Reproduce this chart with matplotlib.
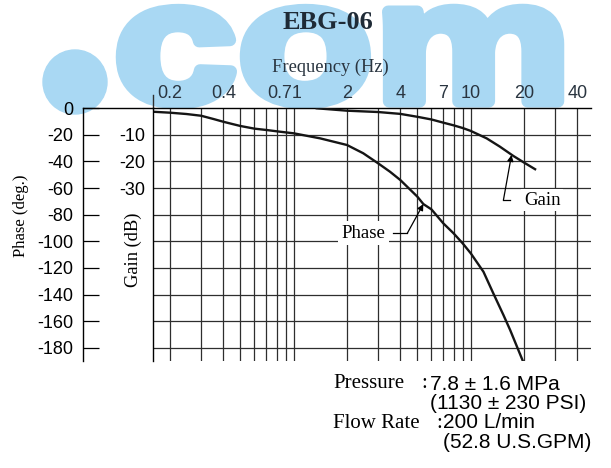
import matplotlib
matplotlib.use("Agg")
import matplotlib.pyplot as plt
from matplotlib.patches import Circle, PathPatch
from matplotlib.textpath import TextPath
from matplotlib.font_manager import FontProperties
from matplotlib.transforms import Affine2D, IdentityTransform
from matplotlib.ticker import NullLocator

SERIF = "Liberation Serif"
SANS = "Liberation Sans"
plt.rcParams["font.family"] = SANS

# values
phase_freq = [0.161, 0.2, 0.248, 0.3, 0.351, 0.4, 0.456, 0.5, 0.6, 0.7, 0.836, 1.0, 1.41,
              2, 2.47, 3, 3.5, 4, 5, 5.4, 6, 7, 8, 9, 10, 11.8, 13.4, 15.3, 16.7, 19.7]
phase_deg = [-2.6, -3.3, -4.3, -5.6, -8.0, -10.1, -12.0, -13.3, -15.3, -16.3, -17.6, -18.8, -22.6,
             -27.6, -33.8, -41.4, -47.7, -53.9, -66.5, -72.0, -76, -86.5, -94, -101.5, -109,
             -122.9, -139, -155.4, -166.7, -190]

gain_freq = [1.35, 1.41, 2, 3, 4, 5, 6, 7, 8, 9, 10, 12.3, 14.6, 17.4, 20, 23.1]
gain_db = [0, -0.1, -0.9, -1.4, -2.1, -3.2, -4.2, -5.4, -6.4, -7.4, -8.5, -11.3, -14.4, -17.9, -20.4, -22.9]

grid_freq = [0.2, 0.3, 0.4, 0.5, 0.6, 0.7, 0.8, 0.9, 1, 2, 3, 4, 5, 6, 7, 8, 9, 10, 20, 30, 40]
freq_ticks = [0.2, 0.4, 0.71, 2, 4, 7, 10, 20, 40]
freq_labels = ["0.2", "0.4", "0.71", "2", "4", "7", "10", "20", "40"]
phase_ticks = [0, -20, -40, -60, -80, -100, -120, -140, -160, -180]
gain_ticks = [-10, -20, -30]

W, H = 611, 468
fig = plt.figure(figsize=(W / 100, H / 100), dpi=100)


def fx(px):
    return px / W


def fy(py):
    return 1 - py / H


# watermark ".com" behind everything
wm = "#a9d8f3"
fig.patches.append(Circle((75, H - 82), 32, transform=IdentityTransform(), color=wm, zorder=-5))
tp = TextPath((0, 0), "com", size=1, prop=FontProperties(family=SANS, weight="bold"))
ext = tp.get_extents()
x0, x1, ytop, ybot = 122, 558, 10, 103
sx = (x1 - x0) / ext.width
sy = (ybot - ytop) / ext.height
tr = Affine2D().translate(-ext.x0, -ext.y0).scale(sx, sy).translate(x0, H - ybot)
fig.patches.append(PathPatch(tr.transform_path(tp), transform=IdentityTransform(),
                             fc=wm, ec=wm, lw=9, joinstyle="round", zorder=-5))

left, right, top, bottom = 153.3, 591, 108.3, 361
ax = fig.add_axes([fx(left), fy(bottom), fx(right) - fx(left), fy(top) - fy(bottom)])
ax.set_xscale("log")
ax.set_xlim(0.161, 47.8)
ax.set_ylim(-190, 0)
ax.set_facecolor("white")

grid_kw = dict(color="#2e2e2e", lw=0.9, zorder=1)
for f in grid_freq:
    ax.axvline(f, **grid_kw)
for p in phase_ticks[1:]:
    ax.axhline(p, **grid_kw)

for s in ["right", "bottom"]:
    ax.spines[s].set_visible(False)
ax.spines["top"].set_linewidth(1.0)
ax.spines["left"].set_linewidth(1.0)
ax.spines["left"].set_position(("outward", (left - 82.7) * 0.72))

ax.xaxis.tick_top()
ax.set_xticks(freq_ticks, freq_labels)
ax.xaxis.set_minor_locator(NullLocator())
ax.tick_params(axis="x", which="both", length=0, pad=4.2, labelsize=13, colors="#2a3540")
ax.get_xticklabels()[2].set_ha("left")

ax.set_yticks(phase_ticks, [str(p) for p in phase_ticks])
ax.tick_params(axis="y", direction="in", length=11.2, width=0.9, pad=6.8, labelsize=13)

# extend top line to the phase axis, gain axis up above the top
off = (left - 82.7) / (right - left)
ax.plot([-off, 0], [0, 0], transform=ax.get_yaxis_transform(), color="k", lw=1.0, clip_on=False)
ax.plot([0, 0], [1, 1 + 13 / (bottom - top)], transform=ax.transAxes, color="#2e2e2e", lw=1.0,
        clip_on=False)

ax2 = ax.twinx()
ax2.set_ylim(-95, 0)
for s in ["right", "bottom", "top"]:
    ax2.spines[s].set_visible(False)
ax2.spines["left"].set_linewidth(1.0)
ax2.yaxis.tick_left()
ax2.set_yticks(gain_ticks, [str(g) for g in gain_ticks])
ax2.tick_params(axis="y", length=0, pad=6, labelsize=13)

ax.plot(phase_freq, phase_deg, color="#151515", lw=1.7, zorder=4, solid_joinstyle="round")
ax2.plot(gain_freq, gain_db, color="#151515", lw=1.7, zorder=4, solid_joinstyle="round")

# leaders
arrow = dict(arrowstyle="-|>", color="k", lw=0.9, shrinkA=0, shrinkB=0, mutation_scale=9)
ax.plot([16.7, 15.3], [-69, -69], color="k", lw=0.9, zorder=4)
ax.annotate("", xy=(17.0, -35.1), xytext=(15.3, -69), arrowprops=arrow, zorder=4)
ax.text(20, -69, "Gain", family=SERIF, fontsize=13.5, ha="left", va="center", zorder=3,
        bbox=dict(fc="white", ec="none", pad=2))
ax.plot([3.62, 4.38], [-94, -94], color="k", lw=0.9, zorder=4)
ax.annotate("", xy=(5.4, -72), xytext=(4.38, -94), arrowprops=arrow, zorder=4)
ax.text(3.28, -94, "Phase", family=SERIF, fontsize=13.5, ha="right", va="center", zorder=3,
        bbox=dict(fc="white", ec="none", pad=2.5))

# titles / axis names
fig.text(fx(327.5), fy(22.5), "EBG-06", family=SERIF, weight="bold", fontsize=19,
         ha="center", va="center", color="#1e2a36")
fig.text(fx(330), fy(67), "Frequency (Hz)", family=SERIF, fontsize=13.3,
         ha="center", va="center", color="#2a3540")
fig.text(fx(21), fy(216), "Phase (deg.)", family=SERIF, fontsize=12, rotation=90,
         ha="center", va="center")
fig.text(fx(133.5), fy(250), "Gain (dB)", family=SERIF, fontsize=13.3, rotation=90,
         ha="center", va="center")

# operating conditions
fs_serif = 15
fs_sans = 15
rows_y = [384, 403.5, 423, 442.5]
fig.text(fx(333), fy(rows_y[0]), "Pressure", family=SERIF, fontsize=fs_serif, va="center")
fig.text(fx(421), fy(rows_y[0]), ":", family=SERIF, fontsize=fs_serif, va="center")
fig.text(fx(430), fy(rows_y[0]), "7.8 \u00b1 1.6 MPa", family=SANS, fontsize=fs_sans, va="center")
fig.text(fx(430), fy(rows_y[1]), "(1130 \u00b1 230 PSI)", family=SANS, fontsize=fs_sans, va="center")
fig.text(fx(333), fy(rows_y[2]), "Flow Rate", family=SERIF, fontsize=fs_serif, va="center")
fig.text(fx(436), fy(rows_y[2]), ":", family=SERIF, fontsize=fs_serif, va="center")
fig.text(fx(443.3), fy(rows_y[2]), "200 L/min", family=SANS, fontsize=fs_sans, va="center")
fig.text(fx(443.3), fy(rows_y[3]), "(52.8 U.S.GPM)", family=SANS, fontsize=fs_sans, va="center")

fig.savefig("out.png", dpi=100)
